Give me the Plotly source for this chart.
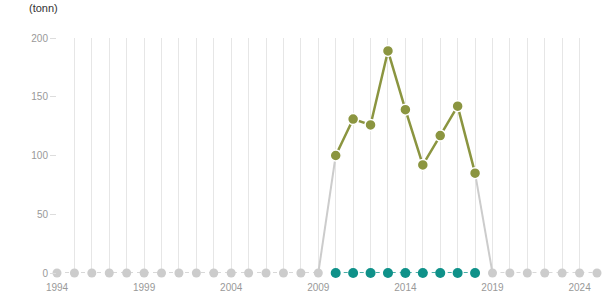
import plotly.graph_objects as go

years = list(range(1994, 2026))
data_years = [2010, 2011, 2012, 2013, 2014, 2015, 2016, 2017, 2018]
values = [100, 131, 126, 189, 139, 92, 117, 142, 85]
tick_years = [1994, 1999, 2004, 2009, 2014, 2019, 2024]

OLIVE = "#8b9540"
TEAL = "#0f9189"
GRAY = "#cccccc"

fig = go.Figure()

first, last = data_years[0], data_years[-1]
before = [y for y in years if y < first]
after = [y for y in years if y > last]
zx = before + [None] + after
zy = [0] * len(before) + [None] + [0] * len(after)
fig.add_trace(go.Scatter(x=zx, y=zy, mode="lines+markers",
                         line=dict(color=GRAY, width=1.5, dash="4px,4px"),
                         marker=dict(color=GRAY, size=9),
                         cliponaxis=False, hoverinfo="skip"))
fig.add_trace(go.Scatter(x=data_years, y=[0] * len(data_years), mode="lines+markers",
                         line=dict(color=TEAL, width=1.5, dash="4px,4px"),
                         marker=dict(color=TEAL, size=10),
                         cliponaxis=False, hoverinfo="skip"))
fig.add_trace(go.Scatter(x=[before[-1], first, None, last, after[0]],
                         y=[0, values[0], None, values[-1], 0],
                         mode="lines", line=dict(color=GRAY, width=2),
                         hoverinfo="skip"))
fig.add_trace(go.Scatter(x=data_years, y=values, mode="lines+markers",
                         line=dict(color=OLIVE, width=2.5),
                         marker=dict(color=OLIVE, size=11, line=dict(color="white", width=1.5)),
                         cliponaxis=False))

fig.update_layout(
    width=615, height=305,
    margin=dict(l=57, r=18, t=38, b=32),
    paper_bgcolor="white", plot_bgcolor="white",
    showlegend=False,
    font=dict(family="Liberation Sans, Arial, sans-serif", size=10, color="#999999"),
    xaxis=dict(range=[1994, 2025], tickvals=years,
               ticktext=[str(y) if y in tick_years else "" for y in years],
               showgrid=True, gridcolor="#e6e6e6", gridwidth=1,
               zeroline=False, showline=False, ticks="outside", ticklen=5,
               tickcolor="rgba(0,0,0,0)", tickfont=dict(size=10, color="#999999")),
    yaxis=dict(range=[0, 200], tickvals=[0, 50, 100, 150, 200], showgrid=False,
               zeroline=False, showline=False, ticks="outside", ticklen=6,
               tickcolor="#dddddd", tickfont=dict(size=10, color="#999999")),
)
fig.add_annotation(text="(tonn)", xref="paper", yref="paper", x=-30/540, y=1 + 30/235,
                   xanchor="left", yanchor="middle", showarrow=False,
                   font=dict(size=11, color="#333333"))

fig.write_html("out.html")
